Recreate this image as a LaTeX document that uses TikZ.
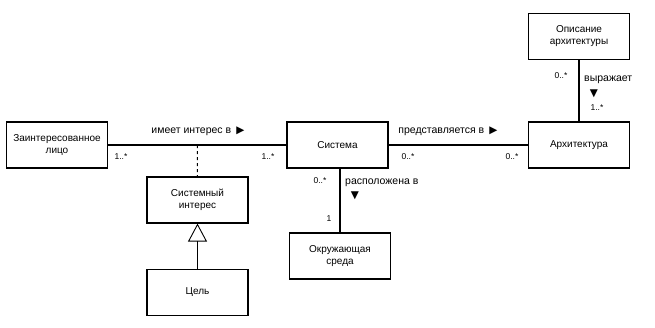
\documentclass[tikz,border=0pt]{standalone}
\usepackage{fontspec}
\setmainfont{Liberation Sans}
\newfontfamily\arrfont{DejaVu Sans}
\usetikzlibrary{arrows.meta,positioning}

\begin{document}
\begin{tikzpicture}[
  x=1pt, y=-1pt,
  font=\fontsize{10}{12}\selectfont,
  cls/.style={draw, line width=1.2pt, align=center, minimum width=101pt, minimum height=46pt, inner sep=2pt},
  assoc/.style={line width=1.2pt},
  lbl/.style={inner sep=1pt, font=\fontsize{10.5}{12}\selectfont},
  mult/.style={inner sep=1pt, font=\fontsize{8.5}{10}\selectfont},
  gen/.style={line width=1.2pt, -{Triangle[open, length=18pt, width=19pt, line width=0.9pt]}}
]
\useasboundingbox (0,0) rectangle (655,327);

\node[cls] (stake) at (57,145) {Заинтересованное\\лицо};
\node[cls] (sys) at (337.5,145) {Система};
\node[cls] (arch) at (579,145) {Архитектура};
\node[cls] (desc) at (579,36.5) {Описание\\архитектуры};
\node[cls] (sysint) at (197.5,200) {Системный\\интерес};
\node[cls] (goal) at (197.5,292.5) {Цель};
\node[cls] (env) at (340,256) {Окружающая\\среда};

% associations
\draw[assoc] (stake) -- coordinate[pos=0.5] (mid) (sys);
\draw[assoc, dashed, line width=1pt] (mid) -- (sysint);
\draw[assoc] (sys) -- (arch);
\draw[assoc] (desc) -- (arch);
\draw[assoc] (sys.south -| env.north) -- (env.north);
\draw[gen] (goal) -- (sysint);

% labels
\node[lbl] (hasint) at (198,131) {имеет интерес в\enspace{\arrfont ▶}};
\node[mult] (m1) at (121,157) {1..*};
\node[mult] (m2) at (268,157) {1..*};
\node[lbl] (repr) at (448,131) {представляется в\enspace{\arrfont ▶}};
\node[mult] (m3) at (408,157) {0..*};
\node[mult] (m4) at (512,157) {0..*};
\node[lbl, anchor=west] (loc) at (344,183) {расположена в};
\node[lbl] (locarr) at (355,196) {\arrfont ▼};
\node[mult] (m5) at (320,181) {0..*};
\node[mult] (m6) at (329,219) {1};
\node[lbl, anchor=west] (expr) at (583,80) {выражает};
\node[lbl] (exprarr) at (594,94) {\arrfont ▼};
\node[mult] (m7) at (561,76) {0..*};
\node[mult] (m8) at (597,108) {1..*};

\end{tikzpicture}
\end{document}
